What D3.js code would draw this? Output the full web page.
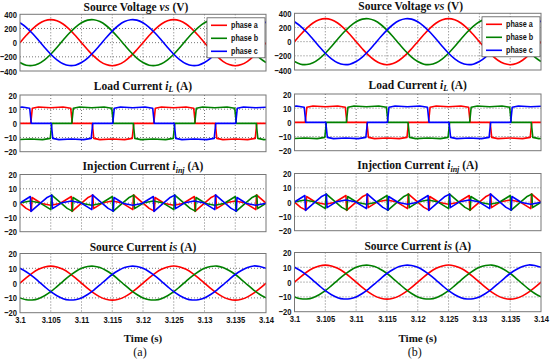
<!DOCTYPE html>
<html>
<head>
<meta charset="utf-8">
<script src="https://cdn.jsdelivr.net/npm/d3@7"></script>
<style>
  body { margin: 0; background: #fff; }
  svg { display: block; }
</style>
</head>
<body>
<svg id="chart" width="550" height="362"></svg>
<script>
// ---- data ----
const timeTicks = [3.1, 3.105, 3.11, 3.115, 3.12, 3.125, 3.13, 3.135, 3.14];
const tickLabels = ["3.1", "3.105", "3.11", "3.115", "3.12", "3.125", "3.13", "3.135", "3.14"];
const voltTicks = [-400, -200, 0, 200, 400];
const ampTicks = [-20, -10, 0, 10, 20];
const phaseNames = ["phase a", "phase b", "phase c"];
const phaseColors = ["#ff0000", "#008000", "#0000ff"];

// sampled every 1 ms from 3.100 s
const sampleMs = d3.range(0, 41);

// source voltage vs (V)
const vsA = [0, 100, 191, 263, 309, 325, 309, 263, 191, 100, 0, -100, -191, -263, -309, -325, -309, -263, -191, -100,
             0, 100, 191, 263, 309, 325, 309, 263, 191, 100, 0, -100, -191, -263, -309, -325, -309, -263, -191, -100, 0];
const vsB = [-281, -318, -323, -297, -242, -163, -68, 34, 132, 217, 281, 318, 323, 297, 242, 163, 68, -34, -132, -217,
             -281, -318, -323, -297, -242, -163, -68, 34, 132, 217, 281, 318, 323, 297, 242, 163, 68, -34, -132, -217, -281];
const vsC = [281, 217, 132, 34, -68, -163, -242, -297, -323, -318, -281, -217, -132, -34, 68, 163, 242, 297, 323, 318,
             281, 217, 132, 34, -68, -163, -242, -297, -323, -318, -281, -217, -132, -34, 68, 163, 242, 297, 323, 318, 281];

// source current is (A)
const isA = [0, 3.6, 6.8, 9.3, 10.9, 11.5, 10.9, 9.3, 6.8, 3.6, 0, -3.6, -6.8, -9.3, -10.9, -11.5, -10.9, -9.3, -6.8, -3.6,
             0, 3.6, 6.8, 9.3, 10.9, 11.6, 10.9, 9.3, 6.8, 3.6, 0, -3.6, -6.8, -9.3, -10.9, -11.5, -10.9, -9.3, -6.8, -3.6, 0];
const isB = [-10.0, -11.2, -11.4, -10.5, -8.5, -5.8, -2.4, 1.2, 4.7, 7.7, 10.0, 11.2, 11.4, 10.5, 8.5, 5.8, 2.4, -1.2, -4.7, -7.7,
             -10.0, -11.2, -11.4, -10.5, -8.5, -5.8, -2.4, 1.2, 4.7, 7.7, 10.0, 11.2, 11.5, 10.5, 8.5, 5.8, 2.4, -1.2, -4.7, -7.7, -10.0];
const isC = [10.0, 7.7, 4.7, 1.2, -2.4, -5.8, -8.5, -10.5, -11.4, -11.2, -10.0, -7.7, -4.7, -1.2, 2.4, 5.8, 8.5, 10.5, 11.4, 11.2,
             10.0, 7.7, 4.7, 1.2, -2.4, -5.8, -8.5, -10.5, -11.4, -11.2, -10.0, -7.7, -4.7, -1.2, 2.4, 5.8, 8.5, 10.5, 11.6, 11.2, 10.0];

// load current iL (A): [ms after 3.1 s, A]
const iLA = [[0, 0], [1.75, 0], [2, 10.6], [3, 11.5], [5, 11], [7, 11.5], [8.25, 10.6], [8.5, 0], [11.75, 0], [12, -10.6],
             [13, -11.5], [15, -11], [17, -11.5], [18.25, -10.6], [18.5, 0], [21.75, 0], [22, 10.6], [23, 11.5], [25, 11],
             [27, 11.5], [28.25, 10.6], [28.5, 0], [31.75, 0], [32, -10.6], [33, -11.5], [35, -11], [37, -11.5],
             [38.25, -10.6], [38.5, 0], [40, 0]];
const iLB = [[0, -11.4], [1.67, -11], [3.67, -11.5], [4.92, -10.6], [5.17, 0], [8.42, 0], [8.67, 10.6], [9.67, 11.5],
             [11.67, 11], [13.67, 11.5], [14.92, 10.6], [15.17, 0], [18.42, 0], [18.67, -10.6], [19.67, -11.5],
             [21.67, -11], [23.67, -11.5], [24.92, -10.6], [25.17, 0], [28.42, 0], [28.67, 10.6], [29.67, 11.5],
             [31.67, 11], [33.67, 11.5], [34.92, 10.6], [35.17, 0], [38.42, 0], [38.67, -10.6], [39.67, -11.5], [40, -11.4]];
const iLC = [[0, 11.4], [0.33, 11.5], [1.58, 10.6], [1.83, 0], [5.08, 0], [5.33, -10.6], [6.33, -11.5], [8.33, -11],
             [10.33, -11.5], [11.58, -10.6], [11.83, 0], [15.08, 0], [15.33, 10.6], [16.33, 11.5], [18.33, 11],
             [20.33, 11.5], [21.58, 10.6], [21.83, 0], [25.08, 0], [25.33, -10.6], [26.33, -11.5], [28.33, -11],
             [30.33, -11.5], [31.58, -10.6], [31.83, 0], [35.08, 0], [35.33, 10.6], [36.33, 11.5], [38.33, 11], [40, 11.4]];

// injection current iinj (A): [ms after 3.1 s, A]
const iInjA = [[0, 0], [1, -3.7], [1.85, -5.6], [1.95, 3.9], [3.5, -0.3], [5, -1.5], [6.5, -0.3], [8.35, 4.6], [8.45, -5.8],
               [10, 0], [11, 3.7], [11.85, 5.6], [11.95, -3.9], [13.5, 0.3], [15, 1.5], [16.5, 0.3], [18.35, -4.6],
               [18.45, 5.8], [20, 0], [21, -3.7], [21.85, -5.6], [21.95, 3.9], [23.5, -0.3], [25, -1.5], [26.5, -0.3],
               [28.35, 4.6], [28.45, -5.8], [30, 0], [31, 3.7], [31.85, 5.6], [31.95, -3.9], [33.5, 0.3], [35, 1.5],
               [36.5, 0.3], [38.35, -4.6], [38.45, 5.8], [40, 0]];
const iInjB = [[0, -0.1], [0.17, 0.3], [1.67, 1.5], [3.17, 0.3], [5.02, -4.6], [5.12, 5.8], [6.67, 0], [7.67, -3.7],
               [8.52, -5.6], [8.62, 3.9], [10.17, -0.3], [11.67, -1.5], [13.17, -0.3], [15.02, 4.6], [15.12, -5.8],
               [16.67, 0], [17.67, 3.7], [18.52, 5.6], [18.62, -3.9], [20.17, 0.3], [21.67, 1.5], [23.17, 0.3],
               [25.02, -4.6], [25.12, 5.8], [26.67, 0], [27.67, -3.7], [28.52, -5.6], [28.62, 3.9], [30.17, -0.3],
               [31.67, -1.5], [33.17, -0.3], [35.02, 4.6], [35.12, -5.8], [36.67, 0], [37.67, 3.7], [38.52, 5.6],
               [38.62, -3.9], [40, -0.1]];
const iInjC = [[0, 0.1], [1.68, 4.6], [1.78, -5.8], [3.33, 0], [4.33, 3.7], [5.18, 5.6], [5.28, -3.9], [6.83, 0.3],
               [8.33, 1.5], [9.83, 0.3], [11.68, -4.6], [11.78, 5.8], [13.33, 0], [14.33, -3.7], [15.18, -5.6],
               [15.28, 3.9], [16.83, -0.3], [18.33, -1.5], [19.83, -0.3], [21.68, 4.6], [21.78, -5.8], [23.33, 0],
               [24.33, 3.7], [25.18, 5.6], [25.28, -3.9], [26.83, 0.3], [28.33, 1.5], [29.83, 0.3], [31.68, -4.6],
               [31.78, 5.8], [33.33, 0], [34.33, -3.7], [35.18, -5.6], [35.28, 3.9], [36.83, -0.3], [38.33, -1.5],
               [39.83, -0.3], [40, 0.1]];

// ---- layout ----
const cols = [
    { left: 20, right: 266, dy: 0, caption: "(a)" },
    { left: 294.5, right: 541, dy: -1, caption: "(b)" }
];
const rows = [
    { top: 14.3, bottom: 71, titleY: 10.5 },
    { top: 95, bottom: 151.7, titleY: 89.5 },
    { top: 174.5, bottom: 231.7, titleY: 170 },
    { top: 253.5, bottom: 312.7, titleY: 250.5 }
];
const narrow = 0.8; // the reference's tick/legend lettering is horizontally condensed

const sampled = arr => sampleMs.map((m, i) => [m, arr[i]]);

const panels = [
    {
        title: [{ t: "Source Voltage " }, { t: "v", it: 1 }, { t: "S", it: 1, size: "0.8em" }, { t: " (V)" }],
        shift: -7, domain: [-400, 400], ticks: voltTicks, legend: true,
        series: [sampled(vsA), sampled(vsB), sampled(vsC)], curve: d3.curveCatmullRom
    },
    {
        title: [{ t: "Load Current " }, { t: "i", it: 1 }, { t: "L", it: 1, size: "0.7em", sub: 2.5 }, { t: " (A)" }],
        shift: 0, domain: [-20, 20], ticks: ampTicks,
        series: [iLA, iLB, iLC], curve: d3.curveLinear
    },
    {
        title: [{ t: "Injection Current " }, { t: "i", it: 1 }, { t: "inj", it: 1, size: "0.7em", sub: 2.5 }, { t: " (A)" }],
        shift: 0, domain: [-20, 20], ticks: ampTicks,
        series: [iInjA, iInjB, iInjC], curve: d3.curveLinear
    },
    {
        title: [{ t: "Source Current " }, { t: "i", it: 1 }, { t: "S", it: 1, size: "0.8em" }, { t: " (A)" }],
        shift: 0, domain: [-20, 20], ticks: ampTicks, xlabels: true,
        series: [sampled(isA), sampled(isB), sampled(isC)], curve: d3.curveCatmullRom
    }
];

const svg = d3.select("#chart");
svg.append("rect").attr("width", 550).attr("height", 362).attr("fill", "#fff");

const tickFont = "'Liberation Sans', Arial, sans-serif";
const serifFont = "'Liberation Serif', 'Times New Roman', serif";

cols.forEach((col, ci) => {
    const x = d3.scaleLinear().domain([3.1, 3.14]).range([col.left, col.right]);

    panels.forEach((p, ri) => {
        const row = rows[ri];
        const top = row.top + col.dy, bottom = row.bottom + col.dy;
        const y = d3.scaleLinear().domain(p.domain).range([bottom, top]);
        const g = svg.append("g");
        const clipId = `clip-${ci}-${ri}`;

        g.append("clipPath").attr("id", clipId)
            .append("rect")
            .attr("x", col.left).attr("y", top)
            .attr("width", col.right - col.left).attr("height", bottom - top);

        g.append("rect")
            .attr("x", col.left).attr("y", top)
            .attr("width", col.right - col.left).attr("height", bottom - top)
            .attr("fill", "#fff");

        // dotted grid
        const grid = g.append("g")
            .attr("stroke", "#555")
            .attr("stroke-width", 0.8)
            .attr("stroke-dasharray", "1,2");
        grid.selectAll("line.v")
            .data(timeTicks.slice(1, -1))
            .join("line")
            .attr("class", "v")
            .attr("x1", d => x(d)).attr("x2", d => x(d))
            .attr("y1", top).attr("y2", bottom);
        grid.selectAll("line.h")
            .data(p.ticks.slice(1, -1))
            .join("line")
            .attr("class", "h")
            .attr("x1", col.left).attr("x2", col.right)
            .attr("y1", d => y(d)).attr("y2", d => y(d));

        // traces
        const line = d3.line()
            .x(d => x(3.1 + d[0] / 1000))
            .y(d => y(d[1]))
            .curve(p.curve);
        g.append("g")
            .attr("clip-path", `url(#${clipId})`)
            .selectAll("path")
            .data(p.series)
            .join("path")
            .attr("fill", "none")
            .attr("stroke", (d, i) => phaseColors[i])
            .attr("stroke-width", 1.6)
            .attr("stroke-linejoin", "round")
            .attr("d", line);

        // frame
        g.append("rect")
            .attr("x", col.left).attr("y", top)
            .attr("width", col.right - col.left).attr("height", bottom - top)
            .attr("fill", "none")
            .attr("stroke", "#777")
            .attr("stroke-width", 1);

        // y axis labels
        const yAxis = d3.axisLeft(y).tickValues(p.ticks).tickSize(0).tickPadding(3);
        g.append("g")
            .attr("transform", `translate(${col.left},0)`)
            .call(yAxis)
            .call(a => a.select(".domain").remove())
            .selectAll("text")
            .attr("x", -3 / narrow)
            .attr("transform", `scale(${narrow},1)`)
            .attr("font-family", tickFont)
            .attr("font-weight", "bold")
            .attr("font-size", 9.5)
            .attr("fill", "#111");

        if (p.xlabels) {
            const xAxis = d3.axisBottom(x).tickValues(timeTicks)
                .tickFormat((d, i) => tickLabels[i]).tickSize(0).tickPadding(4);
            g.append("g")
                .attr("transform", `translate(0,${bottom})`)
                .call(xAxis)
                .call(a => a.select(".domain").remove())
                .selectAll("text")
                .attr("transform", `scale(${narrow},1)`)
                .attr("font-family", tickFont)
                .attr("font-weight", "bold")
                .attr("font-size", 9.5)
                .attr("fill", "#111");
        }

        // title
        const title = g.append("text")
            .attr("x", (col.left + col.right) / 2 + p.shift)
            .attr("y", row.titleY + col.dy)
            .attr("text-anchor", "middle")
            .attr("font-family", serifFont)
            .attr("font-weight", "bold")
            .attr("font-size", 11.5)
            .attr("fill", "#111");
        p.title.forEach((part, i) => {
            const ts = title.append("tspan").text(part.t);
            if (part.it) ts.attr("font-style", "italic");
            if (part.size) ts.attr("font-size", part.size);
            if (part.sub) ts.attr("dy", part.sub);
            const prev = p.title[i - 1];
            if (prev && prev.sub) ts.attr("dy", -prev.sub);
        });

        // legend
        if (p.legend) {
            const lx = col.right - 59, ly = top + 3.5;
            const lg = g.append("g").attr("transform", `translate(${lx},${ly})`);
            lg.append("rect")
                .attr("width", 58).attr("height", 40)
                .attr("fill", "#fff")
                .attr("stroke", "#555")
                .attr("stroke-width", 0.8);
            const item = lg.selectAll("g.item")
                .data(phaseNames)
                .join("g")
                .attr("class", "item")
                .attr("transform", (d, i) => `translate(0,${7.5 + i * 13})`);
            item.append("line")
                .attr("x1", 4).attr("x2", 20)
                .attr("stroke", (d, i) => phaseColors[i])
                .attr("stroke-width", 1.6);
            item.append("text")
                .attr("transform", `translate(24,0) scale(${narrow},1)`)
                .attr("dy", "0.35em")
                .attr("font-family", tickFont)
                .attr("font-weight", "bold")
                .attr("font-size", 9)
                .attr("fill", "#111")
                .text(d => d);
        }
    });

    const mid = (col.left + col.right) / 2;
    svg.append("text")
        .attr("x", mid).attr("y", 341.5)
        .attr("text-anchor", "middle")
        .attr("font-family", serifFont)
        .attr("font-weight", "bold")
        .attr("font-size", 11)
        .attr("fill", "#111")
        .text("Time (s)");
    svg.append("text")
        .attr("x", mid - 3).attr("y", 355.5)
        .attr("text-anchor", "middle")
        .attr("font-family", serifFont)
        .attr("font-size", 12)
        .attr("fill", "#111")
        .text(col.caption);
});
</script>
</body>
</html>
